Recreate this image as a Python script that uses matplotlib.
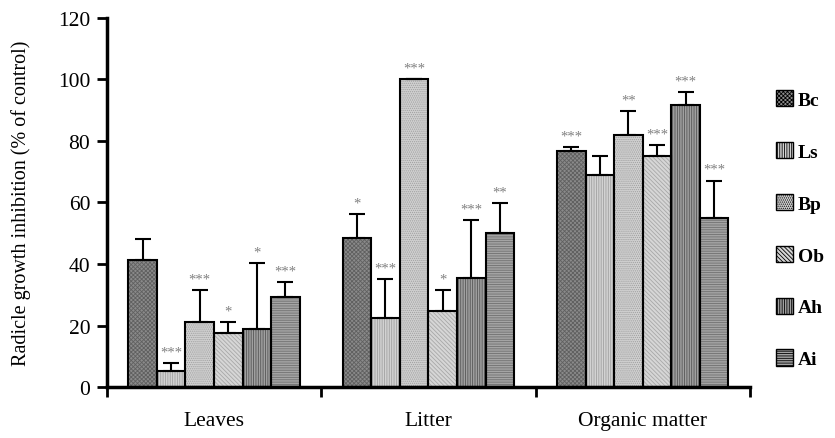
import matplotlib
matplotlib.use("Agg")
import matplotlib.pyplot as plt
from matplotlib.patches import Patch
import numpy as np

plt.rcParams['font.family'] = ['Liberation Serif', 'DejaVu Serif']
plt.rcParams['hatch.linewidth'] = 0.6

# data
categories = ['Leaves', 'Litter', 'Organic matter']
species = ['Bc', 'Ls', 'Bp', 'Ob', 'Ah', 'Ai']

means = {
    'Bc': [41.3, 48.6, 76.8],
    'Ls': [5.3, 22.5, 69.0],
    'Bp': [21.2, 100.0, 81.9],
    'Ob': [17.6, 24.6, 75.1],
    'Ah': [19.0, 35.6, 91.6],
    'Ai': [29.3, 50.0, 54.9],
}
errors = {
    'Bc': [6.8, 7.5, 1.3],
    'Ls': [2.5, 12.5, 6.1],
    'Bp': [10.3, 0.0, 7.9],
    'Ob': [3.6, 7.0, 3.6],
    'Ah': [21.2, 18.7, 4.2],
    'Ai': [4.8, 9.8, 12.2],
}
stars = {
    'Bc': ['', '*', '***'],
    'Ls': ['***', '***', ''],
    'Bp': ['***', '***', '**'],
    'Ob': ['*', '*', '***'],
    'Ah': ['*', '***', '***'],
    'Ai': ['***', '**', '***'],
}

# fill colour, hatch pattern, hatch colour
styles = {
    'Bc': ('#8a8a8a', 'xxxxxxxx', '#606060'),
    'Ls': ('#d2d2d2', '|||||||', '#a0a0a0'),
    'Bp': ('#d0d0d0', '........', '#a0a0a0'),
    'Ob': ('#d6d6d6', '\\\\\\\\\\\\\\\\', '#a8a8a8'),
    'Ah': ('#a0a0a0', '|||||||', '#555555'),
    'Ai': ('#a4a4a4', '-------', '#707070'),
}

fig = plt.figure(figsize=(8.35, 4.39), dpi=100)
ax = fig.add_axes([0.128, 0.116, 0.77, 0.841])

x = np.arange(len(categories)) + 0.5
width = 0.8 / len(species)

for i, sp in enumerate(species):
    pos = x - 0.4 + width * (i + 0.5)
    fc, hatch, hc = styles[sp]
    ax.bar(pos, means[sp], width, color=fc, edgecolor=hc, hatch=hatch, linewidth=0, zorder=2)
    ax.bar(pos, means[sp], width, fill=False, edgecolor='black', linewidth=1.5, zorder=3)
    ax.errorbar(pos, means[sp], yerr=[np.zeros(3), errors[sp]], fmt='none', ecolor='black',
                elinewidth=1.5, capsize=5.8, capthick=1.5, zorder=4)
    for p, m, e, s in zip(pos, means[sp], errors[sp], stars[sp]):
        if s:
            ax.annotate(s, (p, m + e), xytext=(0, 8), textcoords='offset points',
                        ha='center', va='center', fontsize=10.5, color='#808080')

ax.set_xlim(0, 3)
ax.set_ylim(0, 120)
ax.set_yticks(np.arange(0, 121, 20))
ax.set_xticks([0, 1, 2, 3])
ax.set_xticklabels([])
ax.set_xticks(x, minor=True)
ax.set_xticklabels(categories, minor=True, fontsize=15.5)
ax.tick_params(axis='x', which='minor', length=0, pad=17)
ax.tick_params(axis='x', which='major', length=7, width=2, direction='out')
ax.tick_params(axis='y', length=7, width=2, direction='out', labelsize=15.5, pad=5)

for side in ['top', 'right']:
    ax.spines[side].set_visible(False)
for side in ['left', 'bottom']:
    ax.spines[side].set_linewidth(2.5)

ax.set_ylabel('Radicle growth inhibition (% of control)', fontsize=14.5)
ax.yaxis.set_label_coords(-0.118, 0.5)

handles = [Patch(facecolor=styles[sp][0], edgecolor='black', hatch=styles[sp][1], linewidth=1)
           for sp in species]
fig.legend(handles, species, loc='upper left', bbox_to_anchor=(0.929, 0.792), frameon=False,
           prop={'weight': 'bold', 'size': 14}, labelspacing=1.7, handlelength=0.9,
           handleheight=0.9, handletextpad=0.25, borderpad=0, borderaxespad=0)

fig.savefig('out.png', dpi=100)
